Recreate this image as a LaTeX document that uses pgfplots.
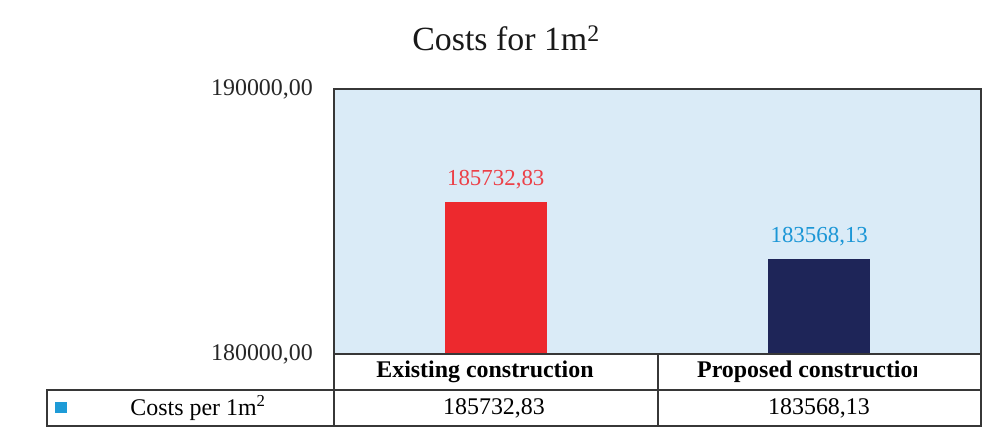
\documentclass[border=0pt]{standalone}
\usepackage{fontspec}
\setmainfont{Liberation Serif}
\usepackage{pgfplots}
\pgfplotsset{compat=1.18}
\definecolor{plotbg}{RGB}{218,235,247}
\definecolor{barred}{RGB}{237,41,46}
\definecolor{labred}{RGB}{236,64,72}
\definecolor{barnavy}{RGB}{30,37,88}
\definecolor{labblue}{RGB}{27,150,214}
\definecolor{legblue}{RGB}{30,155,215}
\definecolor{frame}{RGB}{55,55,55}

\begin{document}
\begin{tikzpicture}[x=1bp,y=1bp]
\begin{axis}[
  scale only axis, width=647bp, height=265bp,
  at={(0,0)}, anchor=south west,
  xmin=-0.5, xmax=1.5, ymin=180000, ymax=190000,
  axis background/.style={fill=plotbg},
  axis line style={draw=frame, line width=1.2bp},
  xtick=\empty,
  scaled y ticks=false,
  ytick={180000,190000},
  yticklabels={{180000,00},{190000,00}},
  major tick length=0pt,
  yticklabel style={anchor=east, inner sep=0pt, xshift=-21bp,
    font=\fontsize{24}{28}\selectfont, text=black!85},
  ybar, bar width=102bp,
  point meta=explicit symbolic,
  every node near coord/.append style={anchor=base, yshift=17bp,
    font=\fontsize{23}{27}\selectfont},
]
\addplot[fill=barred, draw=none, bar shift=0pt, nodes near coords,
  every node near coord/.append style={text=labred}]
  coordinates {(0,185732.83) [185732,83]};
\addplot[fill=barnavy, draw=none, bar shift=0pt, nodes near coords,
  every node near coord/.append style={text=labblue}]
  coordinates {(1,183568.13) [183568,13]};
\end{axis}

% title
\node[font=\fontsize{34}{40}\selectfont, text=black!90] at (172,316) {Costs for 1m\textsuperscript{2}};

% data table under the axis
\begin{scope}[draw=frame, line width=1.2bp]
\draw (0,0) rectangle (647,-36);
\draw (-287,-36) rectangle (647,-72);
\draw (324,0) -- (324,-72);
\draw (0,-36) -- (0,-72);
\end{scope}
\node[font=\fontsize{24}{28}\selectfont\bfseries] at (151,-18) {Existing construction};
\begin{scope}
\clip (324,0) rectangle (582,-36);
\node[font=\fontsize{24}{28}\selectfont\bfseries, anchor=west, inner sep=0pt] at (363,-18) {Proposed construction};
\end{scope}
\fill[legblue] (-279,-48) rectangle (-267,-59);
\node[font=\fontsize{24}{28}\selectfont] at (-136,-54) {Costs per 1m\textsuperscript{2}};
\node[font=\fontsize{24}{28}\selectfont] at (160,-54) {185732,83};
\node[font=\fontsize{24}{28}\selectfont] at (485,-54) {183568,13};

\pgfresetboundingbox
\path (-334,-78) rectangle (663,354);
\end{tikzpicture}
\end{document}
